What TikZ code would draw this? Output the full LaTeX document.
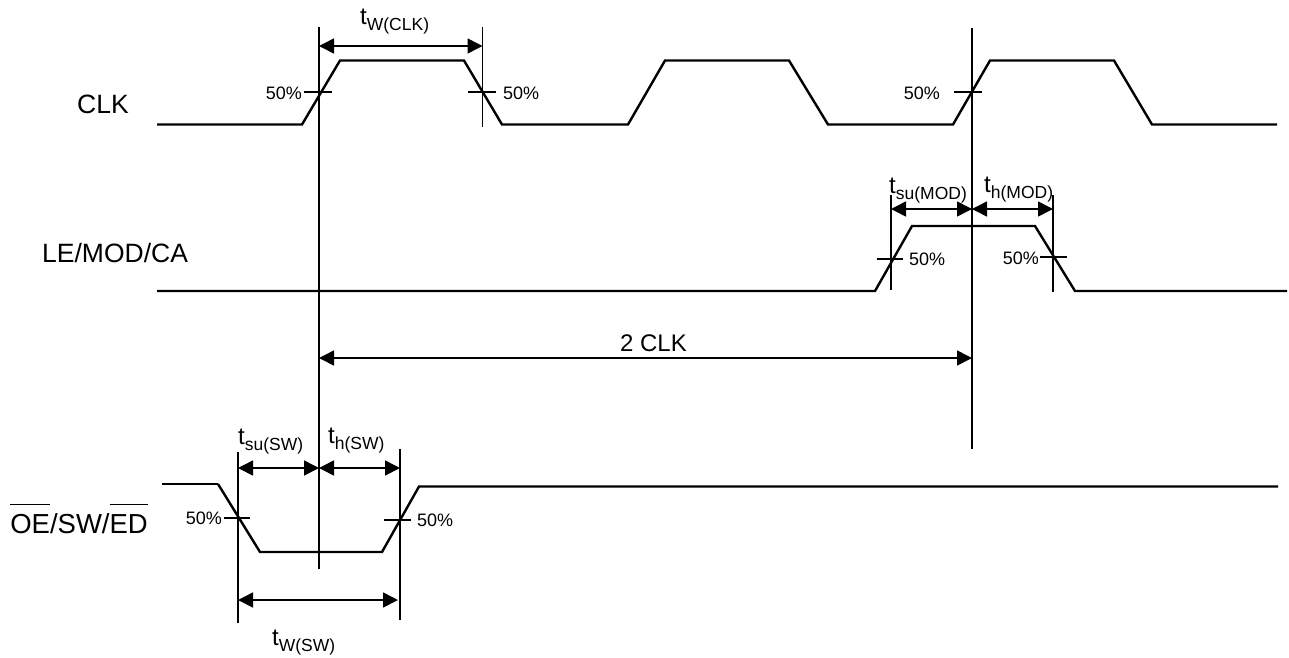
\documentclass[tikz,border=0pt]{standalone}
\usepackage{fontspec}
\setmainfont{Liberation Sans}
\usetikzlibrary{arrows.meta}
\newcommand{\fs}[1]{\fontsize{#1}{#1}\selectfont}
\newcommand{\ovl}[1]{\setbox0\hbox{#1}\rlap{\raisebox{28pt}{\rule{\wd0}{1.2pt}}}\box0}
\newcommand{\tm}[1]{t\raisebox{-6.7pt}{\fs{17.5}#1}}
\tikzset{
  wave/.style={line width=2.4pt,line join=miter},
  thinwave/.style={line width=1.6pt},
  guide/.style={line width=1.7pt},
  tick/.style={line width=1.4pt},
  dim/.style={line width=1.6pt,{Triangle[length=15pt,width=15pt]}-{Triangle[length=15pt,width=15pt]}},
  pct/.style={font=\fs{18},inner sep=0pt},
  sig/.style={font=\fs{26.5},inner sep=0pt},
  tim/.style={font=\fs{24},inner sep=0pt}
}
\begin{document}
\begin{tikzpicture}[x=1pt,y=-1pt]
\useasboundingbox (0,0) rectangle (1289,657);
% waveforms
\draw[wave] (157,124.5) -- (302,124.5) -- (340,60.5) -- (464,60.5) -- (502,124.5) -- (628,124.5) -- (665,60.5) -- (789,60.5) -- (828,124.5) -- (953,124.5) -- (990,60.5) -- (1114,60.5) -- (1152,124.5) -- (1277,124.5);
\draw[wave] (157,291) -- (875,291) -- (912,226) -- (1035,226) -- (1075,291) -- (1287,291);
\draw[thinwave] (162,484) -- (218,484);
\draw[wave] (218,484) -- (260,552) -- (382,552) -- (419,486.5) -- (1278,486.5);
% guide lines
\coordinate (a1) at (319,27); \coordinate (a2) at (319,569);
\coordinate (b1) at (482.5,27); \coordinate (b2) at (482.5,127);
\coordinate (c1) at (972,28); \coordinate (c2) at (972,449);
\coordinate (d1) at (891,195); \coordinate (d2) at (891,290);
\coordinate (e1) at (1053,195); \coordinate (e2) at (1053,292);
\coordinate (f1) at (238,452); \coordinate (f2) at (238,623);
\coordinate (g1) at (400,449); \coordinate (g2) at (400,620);
\foreach \p/\q in {a1/a2,b1/b2,c1/c2,d1/d2,e1/e2,f1/f2,g1/g2} \draw[guide] (\p) -- (\q);
% ticks
\draw[tick] (304,92) -- (332,92);
\draw[tick] (468,92) -- (496,92);
\draw[tick] (954,92) -- (982,92);
\draw[tick] (877,259) -- (903,259);
\draw[tick] (1040,257) -- (1067,257);
\draw[tick] (224,518) -- (250,518);
\draw[tick] (384,520) -- (411,520);
% dimension arrows
\coordinate (m1) at (319,46); \coordinate (m2) at (482.5,46);
\draw[dim] (m1) -- (m2);
\coordinate (n1) at (891,209); \coordinate (n2) at (972,209); \coordinate (n3) at (1053,209);
\draw[dim] (n1) -- (n2);
\draw[dim] (n2) -- (n3);
\coordinate (o1) at (319,358); \coordinate (o2) at (972,358);
\draw[dim] (o1) -- (o2);
\coordinate (p1) at (238,468); \coordinate (p2) at (319,468); \coordinate (p3) at (400,468);
\draw[dim] (p1) -- (p2);
\draw[dim] (p2) -- (p3);
\coordinate (q1) at (238,600); \coordinate (q2) at (398,600);
\draw[dim] (q1) -- (q2);
% percent labels
\node[pct,anchor=east] (l1) at (302,93) {50\%};
\node[pct,anchor=west] (l2) at (503,93) {50\%};
\node[pct,anchor=east] (l3) at (940,93) {50\%};
\node[pct,anchor=west] (l4) at (909,259) {50\%};
\node[pct,anchor=east] (l5) at (1039,258) {50\%};
\node[pct,anchor=east] (l6) at (222,518) {50\%};
\node[pct,anchor=west] (l7) at (417,520) {50\%};
% signal labels
\node[sig,anchor=base west] (clk) at (77,113) {CLK};
\node[sig,anchor=base west] (le) at (42,262) {LE/MOD/CA};
\node[sig,anchor=base east,font=\fs{27.5}] (oe) at (148,533) {\ovl{OE}/SW/\ovl{ED}};
% timing labels
\node[tim,anchor=base west] (t1) at (360,24) {\tm{W(CLK)}};
\node[tim,anchor=base west] (t2) at (889,193) {\tm{su(MOD)}};
\node[tim,anchor=base west] (t3) at (984,192) {\tm{h(MOD)}};
\node[tim,anchor=base] (t4) at (653.5,351) {2 CLK};
\node[tim,anchor=base west] (t5) at (238,444) {\tm{su(SW)}};
\node[tim,anchor=base west] (t6) at (328,443) {\tm{h(SW)}};
\node[tim,anchor=base west] (t7) at (272,645) {\tm{W(SW)}};
\end{tikzpicture}
\end{document}
